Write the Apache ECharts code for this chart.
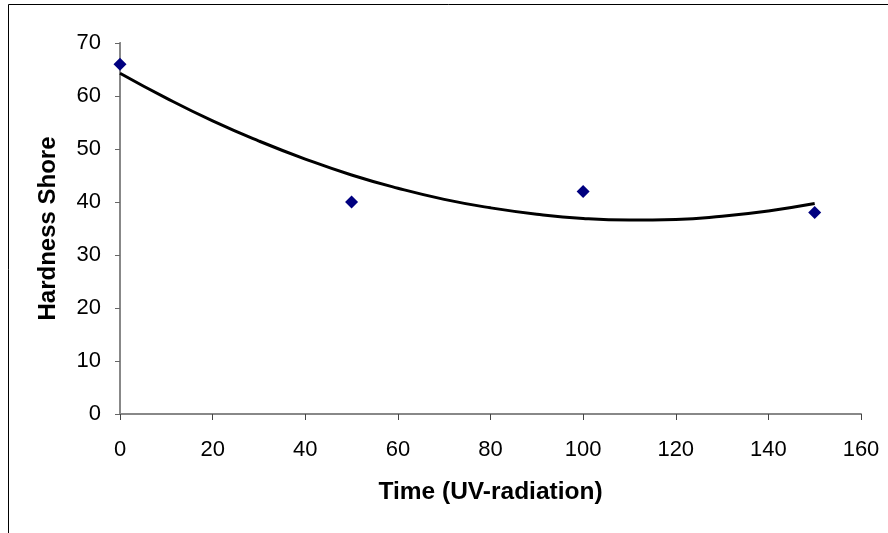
<!DOCTYPE html>
<html>
<head>
<meta charset="utf-8">
<script src="https://cdn.jsdelivr.net/npm/echarts@6/dist/echarts.min.js"></script>
<style>
html,body{margin:0;padding:0;background:#fff;}
#c{width:888px;height:533px;}
</style>
</head>
<body>
<div id="c"></div>
<script>
// Measured points
const timeValues = [0, 50, 100, 150];
const hardnessValues = [66, 40, 42, 38];
// Trend line
const trendX = [0, 10, 20, 30, 40, 50, 60, 70, 80, 90, 100, 110, 120, 130, 140, 150];
const trendY = [64.3, 59.6, 55.3, 51.5, 48.1, 45.1, 42.6, 40.5, 38.9, 37.7, 36.9, 36.6, 36.7, 37.3, 38.3, 39.7];
const xTitle = 'Time (UV-radiation)';
const yTitle = 'Hardness Shore';

const chart = echarts.init(document.getElementById('c'));
const font = '"Liberation Sans", Arial, sans-serif';
chart.setOption({
  animation: false,
  backgroundColor: '#fff',
  graphic: [{
    type: 'rect', z: 100, silent: true,
    shape: { x: 8.5, y: 4.5, width: 1000, height: 1000 },
    style: { fill: 'none', stroke: '#000', lineWidth: 1 }
  }],
  grid: { left: 120, right: 27, top: 43, bottom: 119 },
  xAxis: [{
    type: 'value', min: 0, max: 160, interval: 20,
    name: xTitle, nameLocation: 'middle', nameGap: 66,
    nameTextStyle: { fontFamily: font, fontSize: 24.5, fontWeight: 'bold', color: '#000' },
    axisLine: { show: true, lineStyle: { color: '#000', width: 1 } },
    axisTick: { show: true, length: 6, lineStyle: { color: '#444' } },
    axisLabel: { fontFamily: font, fontSize: 22, color: '#000', margin: 25 },
    splitLine: { show: false }
  }, {
    type: 'value', position: 'top', min: 0, max: 160,
    axisLine: { show: true, lineStyle: { color: '#888', width: 2 } },
    axisTick: { show: false }, axisLabel: { show: false }, splitLine: { show: false }
  }],
  yAxis: [{
    type: 'value', min: 0, max: 70, interval: 10,
    name: yTitle, nameLocation: 'middle', nameGap: 60,
    nameTextStyle: { fontFamily: font, fontSize: 24, fontWeight: 'bold', color: '#000' },
    axisLine: { show: true, lineStyle: { color: '#000', width: 1 } },
    axisTick: { show: true, length: 5, lineStyle: { color: '#666' } },
    axisLabel: { fontFamily: font, fontSize: 22, color: '#000', margin: 19 },
    splitLine: { show: false }
  }, {
    type: 'value', position: 'right', min: 0, max: 70,
    axisLine: { show: true, lineStyle: { color: '#888', width: 2 } },
    axisTick: { show: false }, axisLabel: { show: false }, splitLine: { show: false }
  }],
  series: [{
    type: 'line',
    data: trendX.map((x, i) => [x, trendY[i]]),
    smooth: true, showSymbol: false, symbol: 'none',
    lineStyle: { color: '#000', width: 3 },
    z: 2
  }, {
    type: 'scatter',
    data: timeValues.map((x, i) => [x, hardnessValues[i]]),
    symbol: 'diamond', symbolSize: 13,
    itemStyle: { color: '#000080', opacity: 1 },
    z: 3
  }]
});
</script>
</body>
</html>
